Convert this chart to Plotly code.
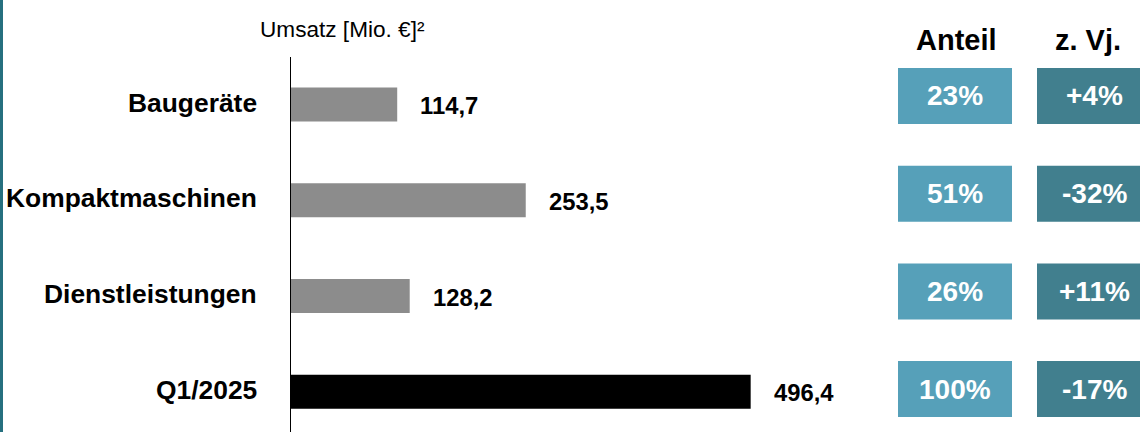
import plotly.graph_objects as go

# ---- data ----
categories = ["Baugeräte", "Kompaktmaschinen", "Dienstleistungen", "Q1/2025"]
umsatz = [114.7, 253.5, 128.2, 496.4]
anteil = ["23%", "51%", "26%", "100%"]
vorjahr = ["+4%", "-32%", "+11%", "-17%"]
col_headers = ["Anteil", "z. Vj."]
title_text = "Umsatz [Mio. €]²"

# ---- style ----
W, H = 1140, 432
FONT = "Liberation Sans, Arial, sans-serif"
bar_colors = ["#8c8c8c", "#8c8c8c", "#8c8c8c", "#000000"]
c_light = "#56a0b9"
c_dark = "#417f8e"
strip = "#26707f"

px_per_unit = 0.926
axis_left = 291
x_max = (W - axis_left) / px_per_unit

fig = go.Figure()

# main bars
fig.add_trace(go.Bar(
    y=categories, x=umsatz, orientation="h",
    marker=dict(color=bar_colors, line_width=0),
    width=0.355, xaxis="x", yaxis="y", hoverinfo="skip",
))

# box cells (pixel-scaled helper axis x2/y2)
n = len(categories)
box_w = 114
box_h_units = 56 / 97.7
col_x0 = [898, 1037]
col_colors = [c_light, c_dark]
for x0, col in zip(col_x0, col_colors):
    fig.add_trace(go.Bar(
        y=categories, x=[box_w] * n, base=[x0] * n, orientation="h",
        marker=dict(color=col, line_width=0), width=box_h_units,
        xaxis="x2", yaxis="y2", hoverinfo="skip",
    ))

ann = []
# category labels
for c in categories:
    ann.append(dict(x=259 / W, xref="paper", y=c, yref="y", xanchor="right",
                    yanchor="middle", text=c, showarrow=False, yshift=2,
                    font=dict(family=FONT, size=26.4, color="black", weight="bold")))
# value labels
for c, v in zip(categories, umsatz):
    ann.append(dict(x=v, xref="x", y=c, yref="y", xanchor="left", yanchor="middle",
                    xshift=21, yshift=-1, showarrow=False,
                    text=f"{v:.1f}".replace(".", ","),
                    font=dict(family=FONT, size=23.8, color="black", weight="bold")))
# box texts
text_cx = [955, 1094]
for cx, vals in zip(text_cx, [anteil, vorjahr]):
    for c, t in zip(categories, vals):
        ann.append(dict(x=cx, xref="x2", y=c, yref="y2", xanchor="center",
                        yanchor="middle", text=t, showarrow=False,
                        font=dict(family=FONT, size=28, color="white", weight="bold")))
# headers
for cx, h in zip([956, 1088], col_headers):
    ann.append(dict(x=cx, xref="x2", y=1 - 40 / H, yref="paper", xanchor="center",
                    yanchor="middle", text=h, showarrow=False,
                    font=dict(family=FONT, size=29, color="black", weight="bold")))
# title
ann.append(dict(x=258 / W, xref="paper", y=1 - 29 / H, yref="paper", xanchor="left",
                yanchor="middle", text=title_text, showarrow=False,
                font=dict(family=FONT, size=22.6, color="black")))

fig.update_layout(
    width=W, height=H,
    margin=dict(l=0, r=0, t=0, b=0),
    paper_bgcolor="white", plot_bgcolor="rgba(0,0,0,0)",
    barmode="overlay", showlegend=False,
    xaxis=dict(domain=[axis_left / W, 1], range=[0, x_max], visible=False, anchor="y"),
    yaxis=dict(domain=[0, (H - 57) / H], range=[3.419, -0.496], type="category",
               showline=True, linecolor="black", linewidth=1.5,
               showticklabels=False, ticks="", showgrid=False, zeroline=False,
               anchor="x"),
    xaxis2=dict(domain=[0, 1], range=[0, W], visible=False, anchor="y2"),
    yaxis2=dict(domain=[0, (H - 57) / H], range=[3.439, -0.399], type="category",
                visible=False, anchor="x2"),
    annotations=ann,
    shapes=[dict(type="rect", xref="paper", yref="paper", x0=0, x1=3 / W, y0=0, y1=1,
                 fillcolor=strip, line_width=0, layer="above")],
)

fig.write_html(
    "out.html",
    config={"displayModeBar": False, "staticPlot": True},
    post_script="document.body.style.margin='0';document.body.style.overflow='hidden';",
)
